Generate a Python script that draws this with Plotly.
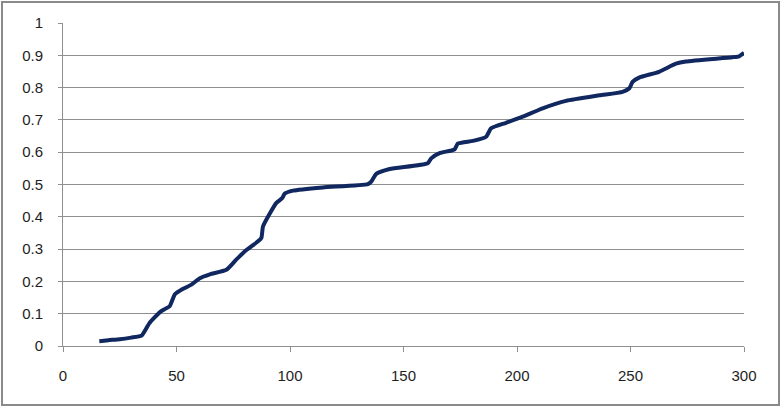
import plotly.graph_objects as go

# cumulative curve
x_vals = [16, 20, 25, 30, 34.6, 38, 42.7, 45, 47, 49.3, 52.9, 56.6, 60.3, 64.7, 72, 76.4,
          80.8, 85.9, 87.4, 88.1, 91.1, 94, 96.6, 97.7, 101.3, 114.5, 134.3, 135.8, 138,
          143.9, 160.7, 162.2, 165.9, 172.5, 174, 180.6, 186.4, 188.6, 195.2, 202.5,
          211.3, 221.6, 236.3, 246.5, 249.5, 250.9, 253.8, 262.6, 270, 274.4, 294.9,
          297.8, 300]
y_vals = [0.015, 0.018, 0.021, 0.026, 0.032, 0.07, 0.105, 0.115, 0.123, 0.16, 0.177, 0.19,
          0.21, 0.222, 0.236, 0.268, 0.297, 0.324, 0.335, 0.37, 0.41, 0.443, 0.458, 0.472,
          0.481, 0.491, 0.501, 0.509, 0.533, 0.548, 0.566, 0.581, 0.597, 0.609, 0.627,
          0.635, 0.648, 0.674, 0.691, 0.71, 0.736, 0.759, 0.776, 0.787, 0.798, 0.818,
          0.831, 0.849, 0.874, 0.881, 0.894, 0.897, 0.908]

x_ticks = [0, 50, 100, 150, 200, 250, 300]
y_ticks = [0, 0.1, 0.2, 0.3, 0.4, 0.5, 0.6, 0.7, 0.8, 0.9, 1]
y_tick_text = ["0", "0.1", "0.2", "0.3", "0.4", "0.5", "0.6", "0.7", "0.8", "0.9", "1"]

W, H = 781, 407
ml, mr, mt, mb = 63, 37, 23, 61
pw, ph = W - ml - mr, H - mt - mb

fig = go.Figure()
fig.add_trace(go.Scatter(x=x_vals, y=y_vals, mode="lines",
                         line=dict(color="#10275f", width=4, shape="spline", smoothing=0.5),
                         showlegend=False, hoverinfo="skip"))

grid = "#8f8f8f"
fig.update_layout(
    width=W, height=H,
    margin=dict(l=ml, r=mr, t=mt, b=mb),
    paper_bgcolor="white", plot_bgcolor="white",
    font=dict(family="Liberation Sans, Arial, sans-serif", size=15, color="#1e1e1e"),
    xaxis=dict(range=[0, 300], tickvals=x_ticks, showgrid=False, zeroline=False,
               showline=True, linecolor=grid, linewidth=1,
               ticks="outside", ticklen=5, tickcolor=grid, ticklabelstandoff=11),
    yaxis=dict(range=[0, 1], tickvals=y_ticks, ticktext=y_tick_text, showgrid=True,
               gridcolor=grid, gridwidth=1, zeroline=False,
               showline=True, linecolor=grid, linewidth=1,
               ticks="outside", ticklen=4, tickcolor=grid, ticklabelstandoff=12),
    shapes=[dict(type="rect", xref="paper", yref="paper",
                 x0=(2 - ml) / pw, x1=(779 - ml) / pw,
                 y0=-(405 - (H - mb)) / ph, y1=((H - mb) - 2) / ph,
                 line=dict(color="#8a8a8a", width=2), layer="below")],
)

fig.write_html("out.html", config={"displayModeBar": False},
               post_script="document.body.style.margin='0';document.body.style.overflow='hidden';")
